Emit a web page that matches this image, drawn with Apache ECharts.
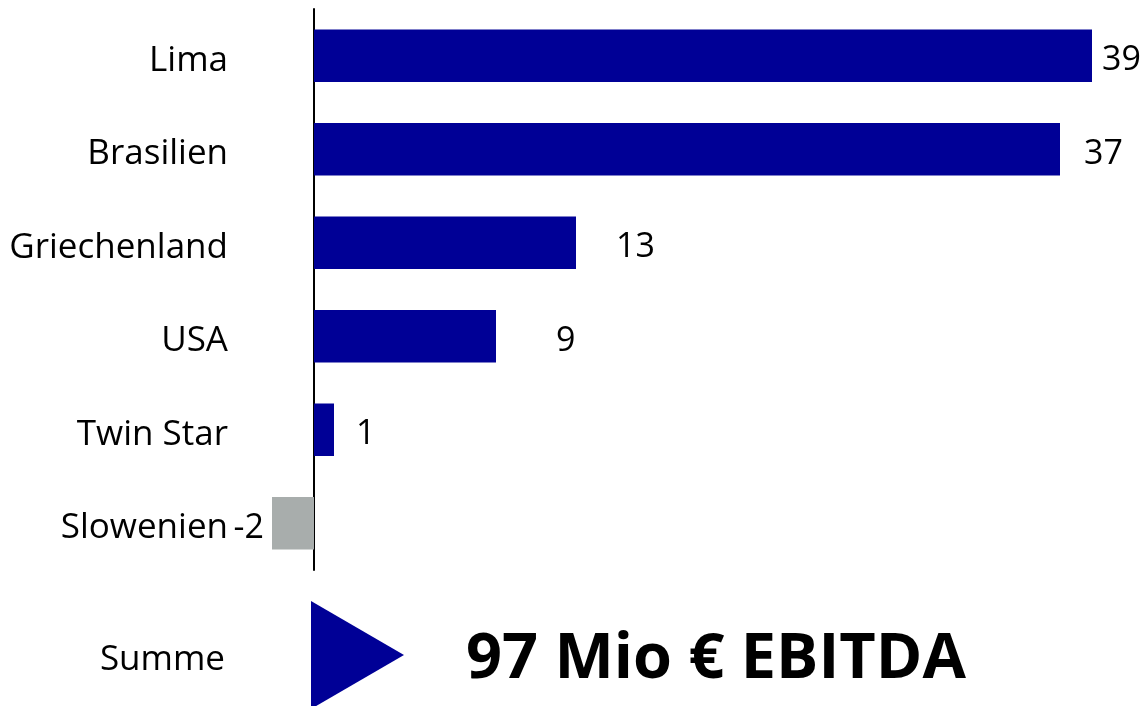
<!DOCTYPE html>
<html>
<head>
<meta charset="utf-8">
<script src="https://cdn.jsdelivr.net/npm/echarts@6/dist/echarts.min.js"></script>
<style>
  html, body { margin: 0; padding: 0; background: #ffffff; }
  #chart { width: 1146px; height: 706px; }
</style>
</head>
<body>
<div id="chart"></div>
<script>
// ---- data ----
const categories = ['Lima', 'Brasilien', 'Griechenland', 'USA', 'Twin Star', 'Slowenien'];
const values = [38.9, 37.3, 13.1, 9.1, 1.0, -2.1];
const totalLabel = 'Summe';
const totalText = '97 Mio € EBITDA';

// ---- styling (not data) ----
const FONT = '"Open Sans", "Noto Sans", sans-serif';
const BLUE = '#000096';
const GREY = '#A8ADAC';
const labelDistance = [10, 24, 40, 60, 22, 8];

const seriesData = values.map((v, i) => ({
  value: v,
  itemStyle: { color: v < 0 ? GREY : BLUE },
  label: {
    show: true,
    position: v < 0 ? 'left' : 'right',
    distance: labelDistance[i]
  }
}));

const chart = echarts.init(document.getElementById('chart'), null, { renderer: 'canvas' });
chart.setOption({
  animation: false,
  backgroundColor: '#ffffff',
  grid: { left: 254, right: 12, top: 9, bottom: 136, containLabel: false, outerBoundsMode: 'none' },
  xAxis: {
    type: 'value',
    min: -3,
    max: 41,
    show: false,
    splitLine: { show: false }
  },
  yAxis: {
    type: 'category',
    data: categories,
    inverse: true,
    axisLine: { show: true, onZero: true, lineStyle: { color: '#000000', width: 2 } },
    axisTick: { show: false },
    axisLabel: {
      margin: 26,
      formatter: v => '{c|' + v + '}',
      rich: {
        c: {
          fontFamily: FONT,
          fontSize: 35,
          color: '#000000',
          padding: [10, 0, 0, 0]
        }
      }
    },
    splitLine: { show: false }
  },
  series: [{
    type: 'bar',
    data: seriesData,
    barCategoryGap: '44%',
    label: {
      show: true,
      fontFamily: FONT,
      fontSize: 34,
      color: '#000000',
      offset: [0, 5],
      formatter: p => String(Math.round(p.value))
    }
  }],
  graphic: [
    {
      type: 'text',
      style: {
        x: 225, y: 660,
        text: totalLabel,
        align: 'right',
        verticalAlign: 'middle',
        fontFamily: FONT,
        fontSize: 35,
        fill: '#000000'
      }
    },
    {
      type: 'polygon',
      shape: { points: [[311, 601], [404, 655], [311, 709]] },
      style: { fill: BLUE }
    },
    {
      type: 'text',
      style: {
        x: 466, y: 660,
        text: totalText,
        align: 'left',
        verticalAlign: 'middle',
        fontFamily: FONT,
        fontSize: 63,
        fontWeight: 'bold',
        fill: '#000000'
      }
    }
  ]
});
</script>
</body>
</html>
